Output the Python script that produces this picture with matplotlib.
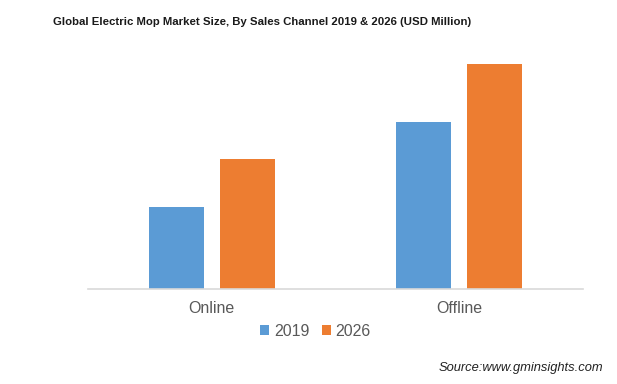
import numpy as np
import matplotlib
matplotlib.use("Agg")
from matplotlib import pyplot as plt

# dati stimati dal grafico (USD Million, scala relativa)
canali = ["Online", "Offline"]
anni = ["2019", "2026"]
valori_2019 = [82, 167]
valori_2026 = [130, 225]

COLORI = ["#5B9BD5", "#ED7D31"]

plt.rcParams['font.family'] = ['Liberation Sans', 'DejaVu Sans']

fig = plt.figure(figsize=(6.17, 3.84), dpi=100)
ax = fig.add_axes([0.1426, 0.2474, 0.8023, 0.6224])

x = np.arange(len(canali))
larghezza = 0.222
scarto = 0.143
ax.bar(x - scarto, valori_2019, larghezza, color=COLORI[0], label=anni[0])
ax.bar(x + scarto, valori_2026, larghezza, color=COLORI[1], label=anni[1])

ax.set_xlim(-0.5, 1.5)
ax.set_ylim(0, 239)
ax.set_xticks(x)
ax.set_xticklabels(canali, fontsize=11.5, color="#595959")
ax.tick_params(axis='x', length=0, pad=9)
ax.set_yticks([])
for lato in ["top", "right", "left"]:
    ax.spines[lato].set_visible(False)
ax.spines["bottom"].set_color("#d9d9d9")
ax.spines["bottom"].set_linewidth(1.2)

leg = ax.legend(loc="upper center", bbox_to_anchor=(0.46, -0.085), ncol=2, frameon=False,
                fontsize=11.5, handlelength=0.55, handleheight=0.55, handletextpad=0.3,
                columnspacing=0.8)
for t in leg.get_texts():
    t.set_color("#595959")

fig.text(0.425, 0.943, "Global Electric Mop Market Size, By Sales Channel 2019 & 2026 (USD Million)",
         ha="center", va="center", fontsize=8.2, fontweight="bold", color="#1a1a1a")
fig.text(0.978, 0.042, "Source:www.gminsights.com", ha="right", va="center",
         fontsize=9.3, style="italic", color="#222222")

fig.savefig("out.png", dpi=100)
